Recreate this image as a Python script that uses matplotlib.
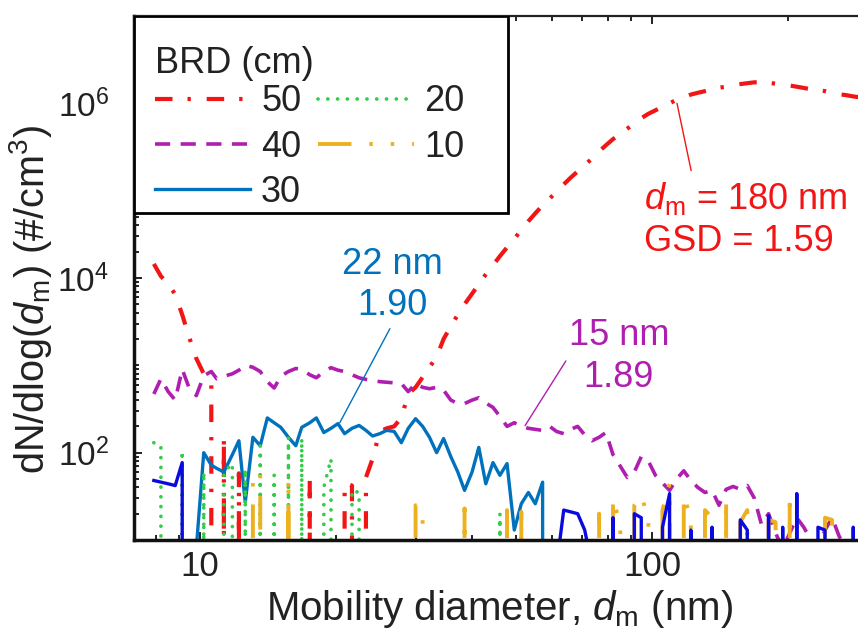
import numpy as np
import matplotlib
matplotlib.use("Agg")
import matplotlib.pyplot as plt
from matplotlib.ticker import LogLocator, NullFormatter
from matplotlib.patches import Rectangle

plt.rcParams['font.family'] = ['Liberation Sans', 'DejaVu Sans']
plt.rcParams['mathtext.fontset'] = 'custom'
plt.rcParams['mathtext.rm'] = 'Liberation Sans'
plt.rcParams['mathtext.it'] = 'Liberation Sans:italic'
plt.rcParams['mathtext.bf'] = 'Liberation Sans:bold'

# SMPS channel midpoints (nm), 64 channels per decade
diameter_nm = [
    7.91, 8.20, 8.51, 8.82, 9.14, 9.47, 9.82, 10.2, 10.6, 10.9,
    11.3, 11.8, 12.2, 12.6, 13.1, 13.6, 14.1, 14.6, 15.1, 15.7,
    16.3, 16.8, 17.5, 18.1, 18.8, 19.5, 20.2, 20.9, 21.7, 22.5,
    23.3, 24.1, 25.0, 25.9, 26.9, 27.9, 28.9, 30.0, 31.1, 32.2,
    33.4, 34.6, 35.9, 37.2, 38.5, 40.0, 41.4, 42.9, 44.5, 46.1,
    47.8, 49.6, 51.4, 53.3, 55.2, 57.3, 59.4, 61.5, 63.8, 66.1,
    68.5, 71.0, 73.7, 76.4, 79.1, 82.0, 85.1, 88.2, 91.4, 94.7,
    98.2, 101.8, 105.5, 109.4, 113.4, 117.6, 121.9, 126.3, 131.0, 135.8,
    140.7, 145.9, 151.2, 156.8, 162.5, 168.5, 174.7, 181.1, 187.7, 194.6,
    201.7, 209.1, 216.7, 224.7, 232.9, 241.4, 250.3, 259.5, 269.0, 278.8,
    289.0,
]

# dN/dlog(dm) (#/cm^3) for each burner-to-rim distance (BRD)
brd_50 = [
    14500, 10500, 8500, 6500, 3800, 2100, 1200, 800, 600, 0,
    155, 0, 58, 0, 0, 0, 0, 0, 0, 0,
    0, 0, 50, 0, 0, 0, 0, 45, 42, 0,
    52, 85, 175, 190, 200, 250, 470, 560, 730, 950,
    1250, 2000, 2800, 3800, 5000, 6600, 8500, 11000, 14000, 17800,
    22400, 28000, 35500, 44700, 55000, 68000, 81000, 98000, 118000, 141000,
    166000, 195000, 234000, 282000, 331000, 389000, 447000, 513000, 589000, 676000,
    759000, 832000, 912000, 1000000, 1100000, 1170000, 1260000, 1320000, 1380000, 1450000,
    1510000, 1550000, 1620000, 1660000, 1700000, 1740000, 1740000, 1720000, 1680000, 1640000,
    1600000, 1550000, 1500000, 1450000, 1410000, 1380000, 1320000, 1270000, 1240000, 1200000,
    1170000,
]

brd_40 = [
    470, 700, 500, 400, 900, 550, 450, 760, 850, 700,
    750, 800, 880, 1000, 950, 850, 650, 550, 750, 850,
    920, 900, 780, 720, 850, 940, 880, 850, 780, 720,
    690, 670, 650, 640, 630, 620, 500, 620, 560, 540,
    560, 520, 400, 365, 365, 400, 425, 370, 330, 260,
    200, 220, 200, 190, 185, 180, 200, 175, 165, 185,
    200, 160, 137, 150, 170, 95, 70, 52, 60, 90,
    80, 55, 45, 37, 50, 62, 48, 40, 35, 37,
    25, 38, 41, 38, 42, 30, 15, 20, 12, 8,
    12, 18, 14, 10, 8, 13, 18, 11, 8, 9,
    8,
]

brd_30 = [
    0, 0, 0, 0, 0, 0, 8, 100, 72, 66,
    60, 95, 137, 27, 150, 120, 250, 220, 195, 150,
    120, 195, 220, 250, 170, 190, 215, 165, 190, 205,
    180, 155, 165, 180, 175, 130, 190, 245, 200, 150,
    100, 145, 90, 60, 37, 60, 115, 44, 77, 55,
    75, 13, 26, 35, 26, 46, 0, 0, 0, 0,
    0, 0, 0, 0, 0, 0, 0, 0, 0, 0,
    0, 0, 0, 0, 0, 0, 0, 0, 0, 0,
    0, 0, 0, 0, 0, 0, 0, 0, 0, 0,
    0, 0, 0, 0, 0, 0, 0, 0, 0, 0,
    0,
]

brd_20 = [
    130, 120, 0, 0, 105, 0, 0, 60, 0, 0,
    60, 75, 0, 65, 0, 120, 0, 55, 0, 150,
    0, 145, 0, 0, 40, 85, 0, 0, 37, 35,
    0, 0, 0, 0, 0, 0, 0, 0, 0, 0,
    0, 0, 0, 0, 0, 0, 0, 0, 0, 20,
    0, 0, 0, 0, 0, 0, 0, 0, 0, 0,
    0, 0, 0, 0, 0, 0, 0, 0, 0, 0,
    0, 0, 0, 0, 0, 0, 0, 0, 0, 0,
    0, 0, 0, 0, 12, 0, 0, 0, 0, 0,
    0, 0, 0, 0, 0, 0, 0, 0, 0, 0,
    0,
]

brd_10 = [
    0, 0, 0, 0, 0, 0, 0, 0, 0, 0,
    0, 0, 0, 0, 58, 57, 0, 0, 0, 52,
    0, 0, 0, 0, 0, 0, 0, 0, 0, 0,
    0, 0, 0, 0, 0, 0, 0, 25, 22, 0,
    0, 0, 0, 0, 23, 0, 0, 0, 0, 0,
    22, 0, 21, 0, 0, 0, 0, 0, 0, 0,
    0, 0, 0, 20, 0, 30, 15, 0, 25, 32,
    18, 0, 22, 44, 0, 32, 18, 0, 22, 18,
    0, 30, 0, 16, 22, 0, 0, 17, 16, 0,
    33, 0, 0, 0, 0, 18, 17, 0, 0, 0,
    0,
]

# repeat scan near the detection floor (not in legend)
repeat_scan = [
    48, 46, 44, 42, 77, 0, 0, 0, 0, 0,
    0, 0, 0, 0, 0, 0, 0, 0, 0, 0,
    0, 0, 0, 0, 0, 0, 0, 0, 0, 0,
    0, 0, 0, 0, 0, 0, 0, 0, 0, 0,
    0, 0, 0, 0, 0, 0, 0, 0, 0, 0,
    0, 0, 0, 0, 0, 0, 0, 5, 22, 21,
    20, 13, 5, 0, 0, 18, 0, 0, 20, 18,
    0, 0, 14, 34, 0, 0, 13, 0, 0, 14,
    0, 0, 0, 17, 13, 0, 0, 19, 0, 14,
    0, 34, 0, 0, 14, 13, 0, 0, 0, 14,
    0,
]

legend_labels = ['50', '40', '30', '20', '10']
x_ticks = [10, 100]
x_tick_labels = ['10', '100']
y_ticks = [1e2, 1e4, 1e6]

c_red = '#f21515'
c_purple = '#b01eb0'
c_blue = '#0072bd'
c_green = '#35cc4a'
c_yellow = '#edb120'
c_dblue = '#0a0ae0'
c_text = '#222222'

fig = plt.figure(figsize=(8.58, 6.31), dpi=100)
ax = fig.add_axes([134 / 858, 91 / 631, 724 / 858, 524 / 631])
ax.set_xscale('log')
ax.set_yscale('log', nonpositive='clip')

l50, = ax.plot(diameter_nm, brd_50, color=c_red, lw=3.0,
               linestyle=(0, (4.2, 3.6, 0.8, 3.8)))
l40, = ax.plot(diameter_nm, brd_40, color=c_purple, lw=2.6,
               linestyle=(0, (4.2, 2.9)))
l30, = ax.plot(diameter_nm, brd_30, color=c_blue, lw=2.4)
l20, = ax.plot(diameter_nm, brd_20, color=c_green, lw=2.7,
               linestyle=(0, (0.01, 2.6)), dash_capstyle='round')
l10, = ax.plot(diameter_nm, brd_10, color=c_yellow, lw=2.8,
               linestyle=(0, (8.6, 4.6, 0.9, 4.6, 0.9, 4.6)))
ax.plot(diameter_nm, repeat_scan, color=c_dblue, lw=2.4)

ax.set_xlim(7.15, 285.6)
ax.set_ylim(10, 1e7)

ax.set_xticks(x_ticks, labels=x_tick_labels)
ax.xaxis.set_minor_locator(LogLocator(base=10, subs=np.arange(2, 10), numticks=50))
ax.xaxis.set_minor_formatter(NullFormatter())
ax.set_yticks(y_ticks)
ax.yaxis.set_minor_locator(LogLocator(base=10, subs=np.arange(1, 10), numticks=50))
ax.yaxis.set_minor_formatter(NullFormatter())

ax.tick_params(which='both', direction='in', top=True, right=False,
               width=1.4, colors=c_text, labelcolor=c_text)
ax.tick_params(which='major', length=6)
ax.tick_params(which='minor', length=3.5)
ax.tick_params(axis='x', which='major', pad=7, labelsize=25)
ax.tick_params(axis='y', which='major', pad=18, labelsize=24)

ax.spines['right'].set_visible(False)
for side in ('left', 'bottom'):
    ax.spines[side].set_linewidth(2.5)
    ax.spines[side].set_color('#111111')
ax.spines['top'].set_linewidth(1.6)
ax.spines['top'].set_color(c_text)

ax.set_xlabel(r'Mobility diameter, $d_\mathrm{m}$ (nm)', fontsize=29, color=c_text)
ax.xaxis.set_label_coords(0.505, -0.092)
ax.set_ylabel(r'dN/dlog($d_\mathrm{m}$) (#/cm$^3$)', fontsize=28.5, color=c_text)
ax.yaxis.set_label_coords(-0.11, 0.458)

# legend with a square black frame
frame = Rectangle((0, 0.624), 0.5166, 0.376, transform=ax.transAxes,
                  facecolor='white', edgecolor='black', lw=2.0, zorder=4)
ax.add_patch(frame)
leg = ax.legend([l50, l40, l30, l20, l10], legend_labels, ncol=2,
                title='BRD (cm)', loc='upper left',
                bbox_to_anchor=(0, 1 - 9 / 524),
                borderaxespad=0, frameon=False, fontsize=26, title_fontsize=26,
                handlelength=2.64, handletextpad=0.3, columnspacing=0.47,
                labelspacing=0.28, borderpad=0.58, alignment='left')
leg._legend_box.sep = 2.5
leg.set_zorder(5)
for t in leg.get_texts():
    t.set_color(c_text)
leg.get_title().set_color(c_text)

# fitted mode annotations
ax.annotate('22 nm\n1.90', xy=(20.4, 221), xytext=(26.7, 8300), textcoords='data',
            ha='center', va='center', color=c_blue, fontsize=26, linespacing=1.25,
            arrowprops=dict(arrowstyle='-', color=c_blue, lw=1.0,
                            shrinkA=2, shrinkB=0, relpos=(0.5, 0)), zorder=6)
ax.annotate('15 nm\n1.89', xy=(52.4, 204), xytext=(84.5, 1260), textcoords='data',
            ha='center', va='center', color=c_purple, fontsize=26, linespacing=1.25,
            arrowprops=dict(arrowstyle='-', color=c_purple, lw=1.0,
                            shrinkA=0, shrinkB=0, relpos=(0.0, 0.5)), zorder=6)
ax.annotate('$d_\\mathrm{m}$ = 180 nm\nGSD = 1.59', xy=(113.6, 1.0e6),
            xytext=(161.5, 46700), textcoords='data',
            ha='center', va='center', multialignment='left', color=c_red,
            fontsize=26, linespacing=1.25,
            arrowprops=dict(arrowstyle='-', color=c_red, lw=1.0,
                            shrinkA=5, shrinkB=0, relpos=(0.24, 1.0)), zorder=6)

fig.savefig('out.png', dpi=100)
